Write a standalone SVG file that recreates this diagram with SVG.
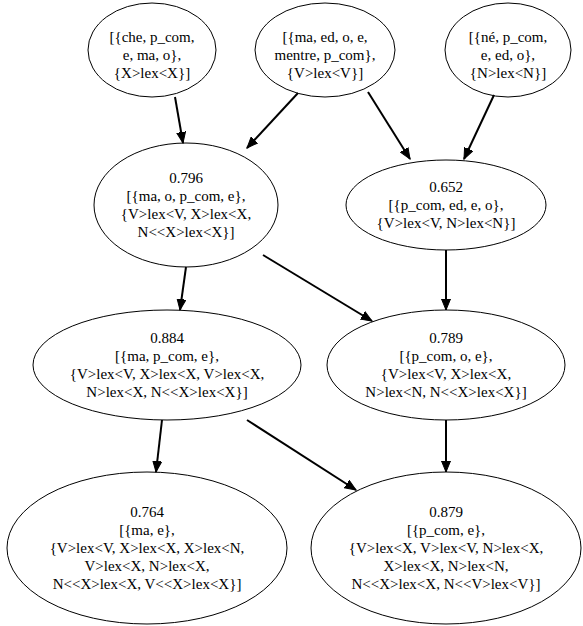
<svg xmlns="http://www.w3.org/2000/svg" width="583" height="626" viewBox="0 0 583 626">
<style>
.n ellipse{fill:none;stroke:#000;stroke-width:1}
.n text{font-family:"Liberation Serif","Times New Roman",serif;font-size:15px;text-anchor:middle;fill:#000}
#edges line{stroke:#000;stroke-width:2;marker-end:url(#ah)}
</style>
<defs>
<marker id="ah" markerUnits="userSpaceOnUse" markerWidth="12" markerHeight="10" viewBox="0 0 12 10" refX="11" refY="5" orient="auto">
<path d="M0,0.5 L11,5 L0,9.5 Z" fill="#000" stroke="#000" stroke-width="1"/>
</marker>
</defs>
<g id="edges">
<line x1="175" y1="97" x2="183" y2="143"/>
<line x1="298" y1="93" x2="247" y2="148"/>
<line x1="368" y1="92" x2="410" y2="159"/>
<line x1="494" y1="95" x2="464" y2="159"/>
<line x1="186" y1="267" x2="180" y2="310"/>
<line x1="263" y1="255" x2="372" y2="321"/>
<line x1="446" y1="250" x2="446" y2="310"/>
<line x1="162" y1="420" x2="156" y2="472"/>
<line x1="247" y1="420" x2="356" y2="490"/>
<line x1="446" y1="420" x2="446" y2="472"/>
</g>
<g id="nA" class="n">
<ellipse cx="152" cy="50" rx="64" ry="47"/>
<text x="152" y="42">[{che, p_com,</text>
<text x="152" y="60">e, ma, o},</text>
<text x="152" y="78">{X&gt;lex&lt;X}]</text>
</g>
<g id="nB" class="n">
<ellipse cx="325" cy="50" rx="70" ry="47"/>
<text x="325" y="42">[{ma, ed, o, e,</text>
<text x="325" y="60">mentre, p_com},</text>
<text x="325" y="78">{V&gt;lex&lt;V}]</text>
</g>
<g id="nC" class="n">
<ellipse cx="508" cy="50" rx="63" ry="47"/>
<text x="508" y="42">[{né, p_com,</text>
<text x="508" y="60">e, ed, o},</text>
<text x="508" y="78">{N&gt;lex&lt;N}]</text>
</g>
<g id="nD" class="n">
<ellipse cx="186" cy="205" rx="92" ry="62"/>
<text x="186" y="183">0.796</text>
<text x="186" y="201">[{ma, o, p_com, e},</text>
<text x="186" y="219">{V&gt;lex&lt;V, X&gt;lex&lt;X,</text>
<text x="186" y="237">N&lt;&lt;X&gt;lex&lt;X}]</text>
</g>
<g id="nE" class="n">
<ellipse cx="446" cy="205" rx="100" ry="45"/>
<text x="446" y="192">0.652</text>
<text x="446" y="210">[{p_com, ed, e, o},</text>
<text x="446" y="228">{V&gt;lex&lt;V, N&gt;lex&lt;N}]</text>
</g>
<g id="nF" class="n">
<ellipse cx="167" cy="365" rx="134" ry="55"/>
<text x="167" y="343">0.884</text>
<text x="167" y="361">[{ma, p_com, e},</text>
<text x="167" y="379">{V&gt;lex&lt;V, X&gt;lex&lt;X, V&gt;lex&lt;X,</text>
<text x="167" y="397">N&gt;lex&lt;X, N&lt;&lt;X&gt;lex&lt;X}]</text>
</g>
<g id="nG" class="n">
<ellipse cx="446" cy="365" rx="119" ry="55"/>
<text x="446" y="343">0.789</text>
<text x="446" y="361">[{p_com, o, e},</text>
<text x="446" y="379">{V&gt;lex&lt;V, X&gt;lex&lt;X,</text>
<text x="446" y="397">N&gt;lex&lt;N, N&lt;&lt;X&gt;lex&lt;X}]</text>
</g>
<g id="nH" class="n">
<ellipse cx="147" cy="548" rx="140" ry="76"/>
<text x="147" y="517">0.764</text>
<text x="147" y="535">[{ma, e},</text>
<text x="147" y="553">{V&gt;lex&lt;V, X&gt;lex&lt;X, X&gt;lex&lt;N,</text>
<text x="147" y="571">V&gt;lex&lt;X, N&gt;lex&lt;X,</text>
<text x="147" y="589">N&lt;&lt;X&gt;lex&lt;X, V&lt;&lt;X&gt;lex&lt;X}]</text>
</g>
<g id="nI" class="n">
<ellipse cx="446" cy="548" rx="135" ry="76"/>
<text x="446" y="517">0.879</text>
<text x="446" y="535">[{p_com, e},</text>
<text x="446" y="553">{V&gt;lex&lt;X, V&gt;lex&lt;V, N&gt;lex&lt;X,</text>
<text x="446" y="571">X&gt;lex&lt;X, N&gt;lex&lt;N,</text>
<text x="446" y="589">N&lt;&lt;X&gt;lex&lt;X, N&lt;&lt;V&gt;lex&lt;V}]</text>
</g>
</svg>
